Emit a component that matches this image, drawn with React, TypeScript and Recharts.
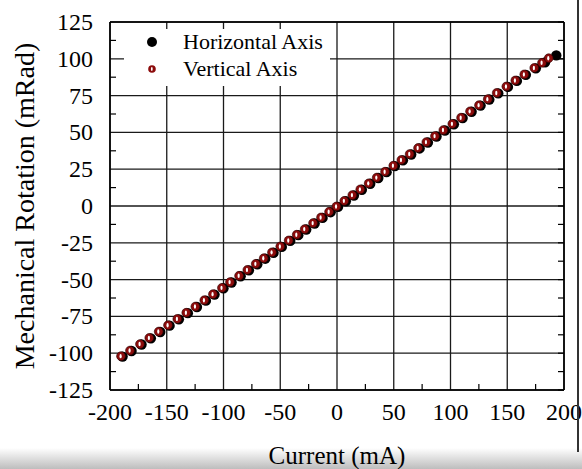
import React from "react";
import { ScatterChart, Scatter, XAxis, YAxis, CartesianGrid, Legend } from "recharts";

const FONT = '"Liberation Serif", "Times New Roman", serif';

// axis ticks
const xMajorTicks = [-200, -150, -100, -50, 0, 50, 100, 150, 200];
const xAllTicks = [-200, -175, -150, -125, -100, -75, -50, -25, 0, 25, 50, 75, 100, 125, 150, 175, 200];
const yMajorTicks = [-125, -100, -75, -50, -25, 0, 25, 50, 75, 100, 125];
const yAllTicks = [
  -125, -112.5, -100, -87.5, -75, -62.5, -50, -37.5, -25, -12.5, 0,
  12.5, 25, 37.5, 50, 62.5, 75, 87.5, 100, 112.5, 125,
];

// Vertical Axis (red) - current in mA, rotation in mRad
const verticalCurrent = [
  -190.3, -182.4, -173.6, -165.4, -157.1, -148.9, -140.7, -132.8, -124.8, -116.9,
  -109.3, -101.4, -94.3, -86.3, -79.0, -71.6, -64.6, -57.3, -50.0, -42.6,
  -35.5, -28.5, -21.1, -14.1, -7.0, -0.5, 6.4, 13.5, 20.5, 27.9,
  35.0, 42.3, 49.6, 56.7, 64.0, 71.4, 78.7, 86.3, 93.7, 101.6,
  109.3, 117.2, 125.1, 132.8, 140.7, 149.2, 157.1, 165.0, 173.8, 180.6, 186.5,
];
const verticalRotation = [
  -102.0, -98.2, -93.8, -89.6, -85.3, -81.0, -76.7, -72.5, -68.3, -64.0,
  -59.9, -55.6, -51.7, -47.4, -43.4, -39.3, -35.5, -31.5, -27.5, -23.4,
  -19.5, -15.7, -11.6, -7.8, -3.9, -0.3, 3.5, 7.4, 11.3, 15.4,
  19.3, 23.3, 27.4, 31.3, 35.3, 39.4, 43.4, 47.5, 51.6, 55.8,
  60.0, 64.3, 68.5, 72.6, 76.8, 81.2, 85.3, 89.4, 93.8, 97.3, 100.4,
];

// Horizontal Axis (black)
const horizontalCurrent = [
  -188.9, -181.0, -172.2, -164.0, -155.7, -147.5, -139.3, -131.4, -123.4, -115.5,
  -107.9, -100.0, -92.9, -84.9, -77.6, -70.2, -63.2, -55.9, -48.6, -41.2,
  -34.1, -27.1, -19.7, -12.7, -5.6, 0.9, 7.8, 14.9, 21.9, 29.3,
  36.4, 43.7, 51.0, 58.1, 65.4, 72.8, 80.1, 87.7, 95.1, 103.0,
  110.7, 118.6, 126.5, 134.2, 142.1, 150.6, 158.5, 166.4, 175.2, 183.3, 193.2,
];
const horizontalRotation = [
  -102.3, -98.5, -94.1, -89.9, -85.6, -81.3, -77.0, -72.8, -68.6, -64.3,
  -60.2, -55.9, -52.0, -47.7, -43.7, -39.6, -35.8, -31.8, -27.8, -23.7,
  -19.8, -16.0, -11.9, -8.1, -4.2, -0.6, 3.2, 7.1, 11.0, 15.1,
  19.0, 23.0, 27.1, 31.0, 35.0, 39.1, 43.1, 47.2, 51.3, 55.5,
  59.7, 64.0, 68.2, 72.3, 76.5, 80.9, 85.0, 89.1, 93.5, 97.6, 102.3,
];

const verticalData = verticalCurrent.map((x, i) => ({ x, y: verticalRotation[i] }));
const horizontalData = horizontalCurrent.map((x, i) => ({ x, y: horizontalRotation[i] }));

// eslint-disable-next-line @typescript-eslint/no-explicit-any
const BlackDot = (props: any) => <circle cx={props.cx} cy={props.cy} r={5.2} fill="#000" />;

// eslint-disable-next-line @typescript-eslint/no-explicit-any
const RedDot = (props: any) => (
  <g>
    <circle cx={props.cx} cy={props.cy} r={4.4} fill="#8c0c0c" stroke="#2a0000" strokeWidth={0.6} />
    <ellipse cx={props.cx - 0.4} cy={props.cy} rx={1.1} ry={2.2} fill="#fff" />
  </g>
);

const frame = { stroke: "#000", strokeWidth: 1.6 };

// eslint-disable-next-line @typescript-eslint/no-explicit-any
const bottomTick = ({ x, y, payload }: any) => {
  const v = payload.value;
  if (v % 50 !== 0) return <line x1={x} x2={x} y1={y} y2={y - 6} stroke="#000" strokeWidth={1.2} />;
  return (
    <text x={x} y={y + 30} textAnchor="middle" fontFamily={FONT} fontSize={24} fill="#000">{v}</text>
  );
};

// eslint-disable-next-line @typescript-eslint/no-explicit-any
const topTick = ({ x, y, payload }: any) => (
  <line x1={x} x2={x} y1={y} y2={y + (payload.value % 50 === 0 ? 8 : 7)} stroke="#000" strokeWidth={1.2} />
);

// eslint-disable-next-line @typescript-eslint/no-explicit-any
const leftTick = ({ x, y, payload }: any) => {
  const v = payload.value;
  if (v % 25 !== 0) return <line x1={x} x2={x + 6} y1={y} y2={y} stroke="#000" strokeWidth={1.2} />;
  return (
    <text x={x - 17} y={y + 8} textAnchor="end" fontFamily={FONT} fontSize={24} fill="#000">{v}</text>
  );
};

// eslint-disable-next-line @typescript-eslint/no-explicit-any
const rightTick = ({ x, y }: any) => (
  <line x1={x} x2={x - 6} y1={y} y2={y} stroke="#000" strokeWidth={1.2} />
);

// eslint-disable-next-line @typescript-eslint/no-explicit-any
const renderLegend = (props: any) => {
  const items = props.payload || [];
  return (
    <svg width={206} height={57} style={{ display: "block", background: "#fff" }}>
      {/* eslint-disable-next-line @typescript-eslint/no-explicit-any */}
      {items.map((entry: any, i: number) => {
        const cy = 13 + i * 27;
        return (
          <g key={entry.value}>
            {entry.value === "Horizontal Axis" ? (
              <circle cx={28} cy={cy} r={5} fill="#000" />
            ) : (
              <g>
                <circle cx={28} cy={cy} r={3.8} fill="#8c0c0c" />
                <ellipse cx={27.8} cy={cy} rx={0.9} ry={1.9} fill="#fff" />
              </g>
            )}
            <text x={59} y={cy + 7} fontFamily={FONT} fontSize={22} fill="#000">{entry.value}</text>
          </g>
        );
      })}
    </svg>
  );
};

export default function App() {
  return (
    <div style={{ position: "absolute", left: 0, top: 0, width: 582, height: 469, background: "#fff", overflow: "hidden" }}>
      <div style={{ position: "absolute", left: 0, top: 448, width: 582, height: 21, background: "linear-gradient(to bottom, rgba(255,255,255,0), #bdbdbd)" }} />
      <div style={{ position: "absolute", left: 0, top: 0 }}>
        <ScatterChart width={582} height={469} margin={{ top: 21, right: 17, bottom: 49, left: 50 }}>
          <CartesianGrid
            xAxisId="b" yAxisId="l"
            verticalValues={xMajorTicks} horizontalValues={yMajorTicks}
            stroke="#1a1a1a" strokeWidth={1.3}
          />
          <XAxis
            xAxisId="b" dataKey="x" type="number" orientation="bottom" height={30}
            domain={[-200, 200]} ticks={xAllTicks} allowDataOverflow interval={0}
            axisLine={frame} tickLine={false} tickSize={0} tickMargin={0} tick={bottomTick}
          />
          <XAxis
            xAxisId="t" type="number" orientation="top" height={1}
            domain={[-200, 200]} ticks={xAllTicks} allowDataOverflow interval={0}
            axisLine={frame} tickLine={false} tickSize={0} tickMargin={0} tick={topTick}
          />
          <YAxis
            yAxisId="l" dataKey="y" type="number" orientation="left" width={60}
            domain={[-125, 125]} ticks={yAllTicks} allowDataOverflow interval={0}
            axisLine={frame} tickLine={false} tickSize={0} tickMargin={0} tick={leftTick}
          />
          <YAxis
            yAxisId="r" type="number" orientation="right" width={1}
            domain={[-125, 125]} ticks={yAllTicks} allowDataOverflow interval={0}
            axisLine={frame} tickLine={false} tickSize={0} tickMargin={0} tick={rightTick}
          />
          <Legend
            layout="vertical" align="center" verticalAlign="middle"
            wrapperStyle={{ position: "absolute", left: 124, top: 29, width: 206, height: 57 }}
            content={renderLegend}
          />
          <Scatter
            name="Horizontal Axis" data={horizontalData} xAxisId="b" yAxisId="l"
            fill="#000" shape={<BlackDot />} isAnimationActive={false}
          />
          <Scatter
            name="Vertical Axis" data={verticalData} xAxisId="b" yAxisId="l"
            fill="#8c0c0c" shape={<RedDot />} isAnimationActive={false}
          />
        </ScatterChart>
      </div>
      <div style={{ position: "absolute", left: 237, top: 441, width: 200, textAlign: "center", fontFamily: FONT, fontSize: 25, lineHeight: "30px", color: "#000" }}>
        Current (mA)
      </div>
      <div style={{ position: "absolute", left: 25 - 200, top: 206 - 15, width: 400, height: 30, textAlign: "center", fontFamily: FONT, fontSize: 28, lineHeight: "30px", color: "#000", transform: "rotate(-90deg)", whiteSpace: "nowrap" }}>
        Mechanical Rotation (mRad)
      </div>
      <div style={{ position: "absolute", left: 577, top: 0, width: 2, height: 452, background: "#333" }} />
    </div>
  );
}
